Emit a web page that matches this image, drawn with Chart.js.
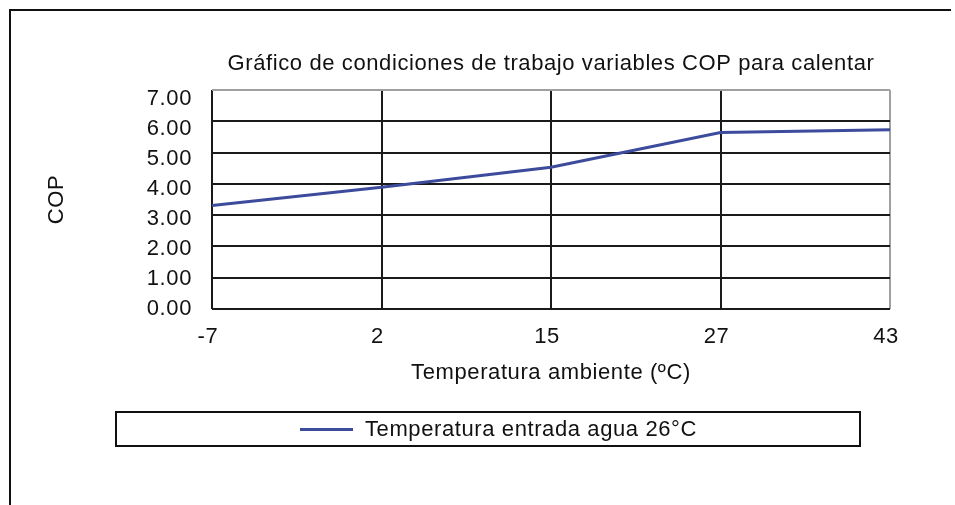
<!DOCTYPE html>
<html>
<head>
<meta charset="utf-8">
<script src="https://cdn.jsdelivr.net/npm/chart.js@4/dist/chart.umd.min.js"></script>
<style>
html,body{margin:0;padding:0;background:#fff;}
#wrap{width:955px;height:505px;position:relative;}
</style>
</head>
<body>
<div id="wrap"><canvas id="c" width="955" height="505"></canvas></div>
<script>
const chartTitle = 'Gráfico de condiciones de trabajo variables COP para calentar';
const xTitle = 'Temperatura ambiente (ºC)';
const yTitle = 'COP';
const categories = ['-7', '2', '15', '27', '43'];
const seriesLabel = 'Temperatura entrada agua 26°C';
const copValues = [3.31, 3.89, 4.53, 5.64, 5.73];
const yTicks = [0, 1, 2, 3, 4, 5, 6, 7];
// the tick-label column of the original is drawn on a slightly shorter pitch than the grid
const yLabelMax = 7.3;

const FONT = '"Liberation Sans", Arial, sans-serif';
const FS = 22;
const LINE_COLOR = '#3d4b9c';

const framePlugin = {
  id: 'frame',
  beforeDraw(chart) {
    const ctx = chart.ctx;
    ctx.letterSpacing = '0.6px';
    ctx.save();
    ctx.fillStyle = '#fff';
    ctx.fillRect(0, 0, chart.width, chart.height);
    ctx.strokeStyle = '#111';
    ctx.lineWidth = 2;
    ctx.beginPath();
    ctx.moveTo(951, 10);
    ctx.lineTo(10, 10);
    ctx.lineTo(10, 505);
    ctx.stroke();
    ctx.restore();
  }
};

const legendPlugin = {
  id: 'boxLegend',
  afterDraw(chart) {
    const ctx = chart.ctx;
    const ds = chart.data.datasets[0];
    ctx.save();
    ctx.strokeStyle = '#111';
    ctx.lineWidth = 2;
    ctx.strokeRect(116, 412, 744, 34);
    ctx.strokeStyle = ds.borderColor;
    ctx.lineWidth = 3;
    ctx.beginPath();
    ctx.moveTo(300, 429.5);
    ctx.lineTo(353, 429.5);
    ctx.stroke();
    ctx.fillStyle = '#111';
    ctx.font = FS + 'px ' + FONT;
    ctx.textBaseline = 'middle';
    ctx.textAlign = 'left';
    ctx.fillText(ds.label, 365, 430);
    ctx.restore();
  }
};

new Chart(document.getElementById('c'), {
  type: 'line',
  data: {
    labels: categories,
    datasets: [{
      label: seriesLabel,
      data: copValues,
      yAxisID: 'y',
      borderColor: LINE_COLOR,
      backgroundColor: LINE_COLOR,
      borderWidth: 3,
      pointRadius: 0,
      tension: 0,
      fill: false
    }]
  },
  options: {
    responsive: false,
    animation: false,
    events: [],
    layout: { padding: { left: 0, right: 65, top: 0, bottom: 106 } },
    plugins: {
      legend: { display: false },
      tooltip: { enabled: false },
      title: {
        display: true,
        text: chartTitle,
        fullSize: false,
        color: '#111',
        font: { family: FONT, size: FS, weight: 'normal', lineHeight: 1.2 },
        padding: { top: 51, bottom: 12.6 }
      }
    },
    scales: {
      x: {
        type: 'category',
        offset: false,
        afterFit(scale) { scale.height = 90; },
        grid: {
          drawTicks: false,
          lineWidth: 2,
          color: (c) => c.index === categories.length - 1 ? '#a0a0a0' : '#1a1a1a'
        },
        border: { display: false },
        ticks: {
          color: '#111',
          padding: 15,
          labelOffset: -4,
          maxRotation: 0,
          font: { family: FONT, size: FS }
        },
        title: {
          display: true,
          text: xTitle,
          color: '#111',
          font: { family: FONT, size: FS },
          padding: { top: 0, bottom: 13 }
        }
      },
      y: {
        position: 'left',
        weight: 1,
        min: yTicks[0],
        max: yTicks[yTicks.length - 1],
        afterFit(scale) { scale.width = 0; },
        afterBuildTicks(scale) { scale.ticks = yTicks.map(v => ({ value: v })); },
        grid: {
          drawTicks: false,
          lineWidth: 2,
          color: (c) => c.index === yTicks.length - 1 ? '#a0a0a0' : '#1a1a1a'
        },
        border: { display: false },
        ticks: { display: false }
      },
      yLabels: {
        position: 'left',
        weight: 0,
        min: yTicks[0],
        max: yLabelMax,
        afterFit(scale) { scale.width = 212; },
        afterBuildTicks(scale) { scale.ticks = yTicks.map(v => ({ value: v })); },
        grid: { display: false, drawTicks: false },
        border: { display: false },
        ticks: {
          color: '#111',
          padding: 20,
          font: { family: FONT, size: FS },
          callback: (v) => Number(v).toFixed(2)
        },
        title: {
          display: true,
          text: yTitle,
          color: '#111',
          font: { family: FONT, size: FS },
          padding: { top: 44, bottom: 0 }
        }
      }
    }
  },
  plugins: [framePlugin, legendPlugin]
});
</script>
</body>
</html>
